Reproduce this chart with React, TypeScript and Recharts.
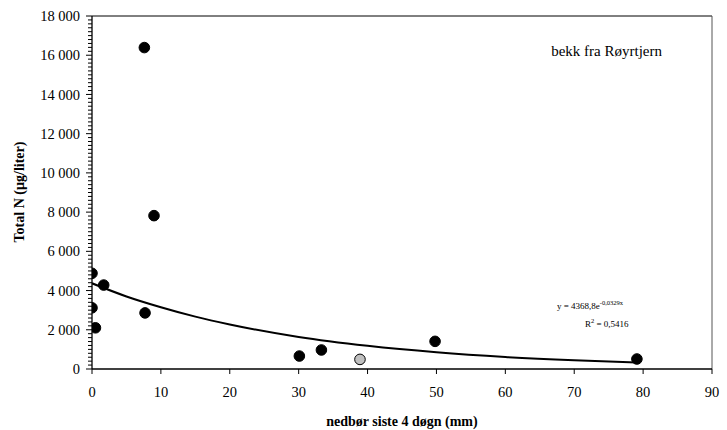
import React from "react";
import {
  ComposedChart,
  Scatter,
  Line,
  XAxis,
  YAxis,
  ReferenceLine,
  Customized,
} from "recharts";

// Measured points (nedbør siste 4 døgn mm, Total N µg/l)
const rainBlack = [0, 0, 0.5, 1.7, 7.6, 7.7, 9.0, 30.1, 33.3, 49.8, 79.1];
const totalNBlack = [4880, 3120, 2100, 4280, 16390, 2860, 7820, 660, 970, 1410, 510];
const rainGrey = [38.9];
const totalNGrey = [490];

// Exponential trendline (y = 4368,8e^-0,0329x)
const trendX = [0, 5, 10, 15, 20, 30, 40, 50, 60, 70, 79.1];
const trendY = [4370, 3700, 3150, 2670, 2270, 1630, 1180, 850, 610, 440, 325];

const xTicks = [0, 10, 20, 30, 40, 50, 60, 70, 80, 90];
const yMajorTicks = [0, 2000, 4000, 6000, 8000, 10000, 12000, 14000, 16000, 18000];
const yMinorStep = 200;

const xTitle = "nedbør siste 4 døgn (mm)";
const yTitle = "Total N (µg/liter)";
const seriesName = "bekk fra Røyrtjern";
const eqMain = "y = 4368,8e";
const eqExp = "-0,0329x";
const r2Pre = "R";
const r2Post = " = 0,5416";

const blackData = rainBlack.map((x, i) => ({ x, y: totalNBlack[i] }));
const greyData = rainGrey.map((x, i) => ({ x, y: totalNGrey[i] }));
const trendData = trendX.map((x, i) => ({ x, y: trendY[i] }));
const yAllTicks = Array.from(
  { length: yMajorTicks[yMajorTicks.length - 1] / yMinorStep + 1 },
  (_, i) => i * yMinorStep
);

const FONT = "'Liberation Serif', 'Times New Roman', 'DejaVu Serif', serif";
const serif = { fontFamily: FONT };

const fmt = (v: number) => {
  const s = String(v);
  return s.length > 3 ? s.slice(0, s.length - 3) + " " + s.slice(s.length - 3) : s;
};

const YTick = (props: any) => {
  const { x, y, payload } = props;
  const v = payload.value as number;
  const major = yMajorTicks.includes(v);
  return (
    <g>
      <line x1={x} x2={x - (major ? 6 : 4)} y1={y} y2={y} stroke="#000" strokeWidth={1} />
      {major && (
        <text
          x={x - 12}
          y={y}
          dy="0.35em"
          textAnchor="end"
          style={serif}
          fontSize={14.5}
          fill="#000"
        >
          {fmt(v)}
        </text>
      )}
    </g>
  );
};

const XTick = (props: any) => {
  const { x, y, payload } = props;
  return (
    <text x={x} y={y} dy="0.71em" textAnchor="middle" style={serif} fontSize={14.5} fill="#000">
      {payload.value}
    </text>
  );
};

const Dot = (fill: string) => (props: any) => {
  const { cx, cy } = props;
  return <circle cx={cx} cy={cy} r={5.3} fill={fill} stroke="#000" strokeWidth={1} />;
};

const Texts = () => (
  <g style={serif} fill="#000">
    <text x={662} y={56} textAnchor="end" fontSize={15} style={serif}>
      {seriesName}
    </text>
    <text x={557} y={309} fontSize={9} style={serif}>
      {eqMain}
      <tspan fontSize={6.5} dy={-4}>
        {eqExp}
      </tspan>
    </text>
    <text x={585} y={327} fontSize={9} style={serif}>
      {r2Pre}
      <tspan fontSize={6.5} dy={-4}>
        2
      </tspan>
      <tspan dy={4}>{r2Post}</tspan>
    </text>
    <text x={402} y={426} textAnchor="middle" fontSize={14} fontWeight="bold" style={serif}>
      {xTitle}
    </text>
    <text
      x={19}
      y={192}
      textAnchor="middle"
      dy="0.35em"
      fontSize={14}
      fontWeight="bold"
      style={serif}
      transform="rotate(-90 19 192)"
    >
      {yTitle}
    </text>
  </g>
);

export default function App() {
  return (
    <div
      style={{
        position: "absolute",
        left: 0,
        top: 0,
        width: 727,
        height: 430,
        background: "#fff",
        fontFamily: FONT,
      }}
    >
      <ComposedChart
        width={727}
        height={430}
        margin={{ top: 16, right: 15, left: 32, bottom: 31 }}
        style={serif}
      >
        <XAxis
          dataKey="x"
          type="number"
          domain={[0, 90]}
          ticks={xTicks}
          interval={0}
          allowDataOverflow
          height={30}
          stroke="#000"
          tickSize={5}
          tickMargin={13}
          tick={<XTick />}
          axisLine={{ stroke: "#000", strokeWidth: 1.3 }}
          tickLine={{ stroke: "#000" }}
        />
        <YAxis
          dataKey="y"
          type="number"
          domain={[0, 18000]}
          ticks={yAllTicks}
          interval={0}
          allowDataOverflow
          width={60}
          tickSize={0}
          tickMargin={0}
          tickLine={false}
          tick={<YTick />}
          axisLine={{ stroke: "#000", strokeWidth: 1.3 }}
        />
        <ReferenceLine y={18000} stroke="#000" strokeWidth={1} />
        <ReferenceLine x={90} stroke="#555" strokeWidth={1} />
        <Scatter data={blackData} dataKey="y" shape={Dot("#000")} isAnimationActive={false} />
        <Scatter data={greyData} dataKey="y" shape={Dot("#c0c0c0")} isAnimationActive={false} />
        <Line
          data={trendData}
          dataKey="y"
          type="monotone"
          dot={false}
          activeDot={false}
          stroke="#000"
          strokeWidth={2}
          isAnimationActive={false}
        />
        <Customized component={Texts} />
      </ComposedChart>
    </div>
  );
}
